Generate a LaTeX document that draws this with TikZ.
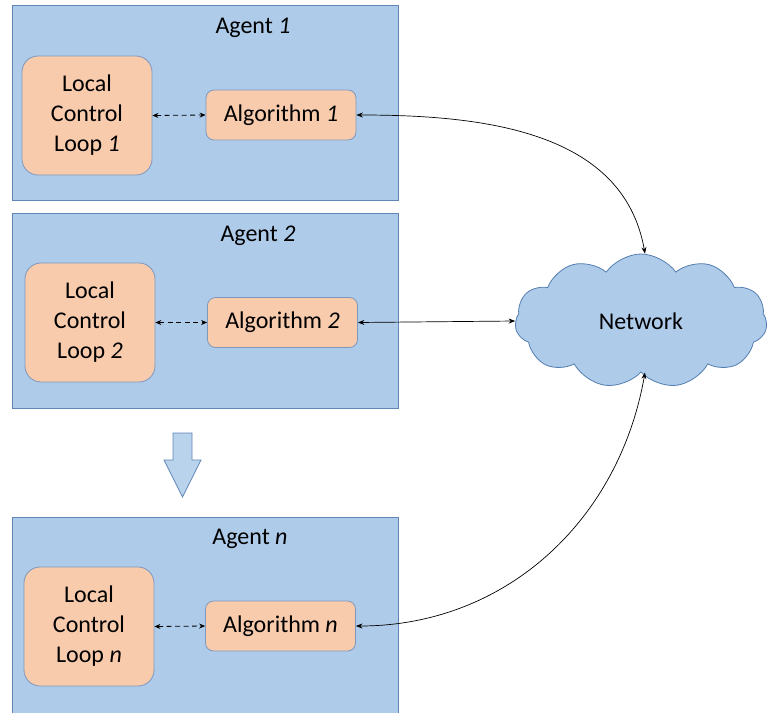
\documentclass[tikz,border=0pt]{standalone}
\usepackage{fontspec}
\setmainfont{Carlito}
\usetikzlibrary{shapes.symbols,arrows.meta}

\definecolor{agentblue}{RGB}{174,203,234}
\definecolor{agentedge}{RGB}{96,134,182}
\definecolor{loopfill}{RGB}{248,203,173}
\definecolor{loopedge}{RGB}{126,152,188}
\definecolor{cloudedge}{RGB}{84,126,176}

\tikzset{
  agent/.style={draw=agentedge, fill=agentblue, line width=0.8pt,
    minimum width=386pt, minimum height=195pt, inner sep=0pt},
  ctrlloop/.style={draw=loopedge, fill=loopfill, line width=0.8pt,
    rounded corners=16pt, minimum width=130pt, minimum height=119pt, align=center},
  algo/.style={draw=loopedge, fill=loopfill, line width=0.8pt,
    rounded corners=8pt, minimum width=150pt, minimum height=50pt},
  ctrl/.style={dash pattern=on 5pt off 3.5pt, line width=0.8pt,
    {Stealth[length=6pt,width=5pt]}-{Stealth[length=6pt,width=5pt]}},
  link/.style={line width=0.7pt,
    {Stealth[length=6.5pt,width=5pt]}-{Stealth[length=6.5pt,width=5pt]}},
}

\begin{document}
\begin{tikzpicture}[x=1pt, y=-1pt, font=\fontsize{24}{30}\selectfont]
  \useasboundingbox (0,0) rectangle (768,712);
  \clip (0,0) rectangle (768,712);

  % the agents
  \node [agent] (agent1) at (205,103) {};
  \node (title1) at (253,28) {Agent \textit{1}};
  \node [ctrlloop] (loop1) at (87,115.5) {Local\\Control\\Loop \textit{1}};
  \node [algo] (alg1) at (281,115) {Algorithm \textit{1}};
  \draw [ctrl] (loop1.east) -- (alg1.west);

  \node [agent] (agent2) at (205,310.5) {};
  \node (title2) at (258,236) {Agent \textit{2}};
  \node [ctrlloop] (loop2) at (90,322.5) {Local\\Control\\Loop \textit{2}};
  \node [algo] (alg2) at (282.5,322.5) {Algorithm \textit{2}};
  \draw [ctrl] (loop2.east) -- (alg2.west);

  \draw [draw=agentedge, fill=agentblue!85!white, line width=0.8pt]
    (173,433) -- (192,433) -- (192,460) -- (201,460) -- (182.5,497)
    -- (164,460) -- (173,460) -- cycle;

  \node [agent, minimum height=200pt] (agentn) at (205,617) {};
  \node (titlen) at (250,539) {Agent \textit{n}};
  \node [ctrlloop] (loopn) at (89,626.5) {Local\\Control\\Loop \textit{n}};
  \node [algo] (algn) at (280.5,626) {Algorithm \textit{n}};
  \draw [ctrl] (loopn.east) -- (algn.west);

  % the network
  \node [cloud, cloud puffs=11, cloud puff arc=110, aspect=1.9,
    draw=cloudedge, fill=agentblue, line width=0.8pt,
    minimum width=252pt, minimum height=134pt] (net) at (641,321) {Network};

  \draw [link] (alg1.east) to [out=0, in=100] ([xshift=4pt]net.north);
  \draw [link] (alg2.east) -- (net.west);
  \draw [link] (algn.east) to [out=0, in=-100] ([xshift=4pt]net.south);
\end{tikzpicture}
\end{document}
